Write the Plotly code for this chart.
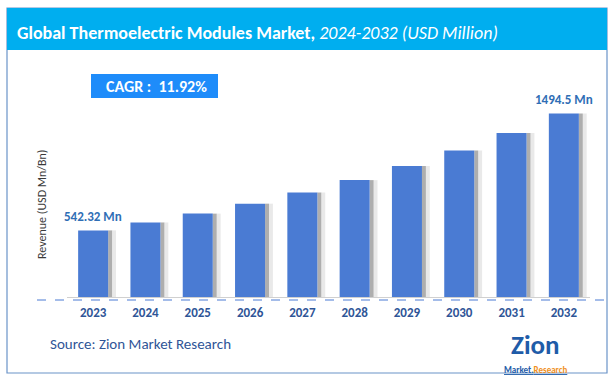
import plotly.graph_objects as go

years = ["2023", "2024", "2025", "2026", "2027", "2028", "2029", "2030", "2031", "2032"]
revenue = [542.32, 607, 679, 760, 851, 952, 1066, 1193, 1335, 1494.5]
cagr_text = "CAGR :  11.92%"
title_bold = "Global Thermoelectric Modules Market,"
title_italic = "2024-2032 (USD Million)"
y_title = "Revenue (USD Mn/Bn)"
source_text = "Source: Zion Market Research"

W, H = 615, 382
ML, MR, MT, MB = 67, 25, 60, 85
PW, PH = W - ML - MR, H - MT - MB


def px(x):
    return (x - ML) / PW


def py(y):
    return (H - MB - y) / PH


bar_w = 0.574
sh_w = 0.075
fig = go.Figure()
fig.add_trace(go.Bar(x=years, y=revenue, width=sh_w, offset=bar_w / 2 + sh_w,
                     marker=dict(color="rgba(215,215,215,0.55)", line=dict(width=0)),
                     hoverinfo="skip", showlegend=False))
fig.add_trace(go.Bar(x=years, y=revenue, width=sh_w, offset=bar_w / 2,
                     marker=dict(color="rgba(140,140,140,0.7)", line=dict(width=0)),
                     hoverinfo="skip", showlegend=False))
fig.add_trace(go.Bar(x=years, y=revenue, width=bar_w, offset=-bar_w / 2,
                     marker=dict(color="#4A7BD3", line=dict(width=0)),
                     showlegend=False))

font_main = "Carlito, Lato, Liberation Sans Narrow, Roboto, sans-serif"

shapes = [
    dict(type="rect", xref="paper", yref="paper", x0=px(7), x1=px(607), y0=py(373), y1=py(8),
         line=dict(color="#6A93C8", width=1.2), fillcolor="rgba(0,0,0,0)", layer="below"),
    dict(type="rect", xref="paper", yref="paper", x0=px(7), x1=px(607), y0=py(50), y1=py(8),
         line=dict(width=0), fillcolor="#00AEEF"),
    dict(type="line", xref="paper", yref="paper", x0=px(37), x1=px(604), y0=py(300), y1=py(300),
         line=dict(color="#4A7BD3", width=1, dash="dash")),
    dict(type="rect", xref="paper", yref="paper", x0=px(91), x1=px(218), y0=py(98), y1=py(74),
         line=dict(width=0), fillcolor="#1E8CFA"),
]

annotations = [
    dict(xref="paper", yref="paper", x=px(15), y=py(33), xanchor="left", yanchor="middle",
         showarrow=False,
         text=f"<b>{title_bold}</b> <i>{title_italic}</i>",
         font=dict(family=font_main, size=18, color="white")),
    dict(xref="paper", yref="paper", x=px(156), y=py(86), xanchor="center", yanchor="middle",
         showarrow=False, text=f"<b>{cagr_text}</b>",
         font=dict(family=font_main, size=16, color="white")),
    dict(xref="paper", yref="paper", x=px(42), y=py(205), xanchor="center", yanchor="middle",
         showarrow=False, text=y_title, textangle=-90,
         font=dict(family=font_main, size=12, color="#3A3A3A")),
    dict(x=0, y=revenue[0], xanchor="center", yanchor="bottom", yshift=4,
         showarrow=False, text=f"<b>{revenue[0]} Mn</b>",
         font=dict(family=font_main, size=13, color="#2F6EB5")),
    dict(x=len(years) - 1, y=revenue[-1], xanchor="center", yanchor="bottom", yshift=4,
         showarrow=False, text=f"<b>{revenue[-1]} Mn</b>",
         font=dict(family=font_main, size=13, color="#2F6EB5")),
    dict(xref="paper", yref="paper", x=px(48), y=py(344), xanchor="left", yanchor="middle",
         showarrow=False, text=source_text,
         font=dict(family=font_main, size=15, color="#2F5597")),
    dict(xref="paper", yref="paper", x=px(535), y=py(344), xanchor="center", yanchor="middle",
         showarrow=False, text="<b>Zion</b>",
         font=dict(family=font_main, size=27, color="#1F5CA8")),
    dict(xref="paper", yref="paper", x=px(535), y=py(369.5), xanchor="center", yanchor="middle",
         showarrow=False,
         text="<b><u>Market.<span style='color:#F0901E'>Research</span></u></b>",
         font=dict(family=font_main, size=9, color="#1F5CA8")),
]

fig.update_layout(
    width=W, height=H,
    margin=dict(l=ML, r=MR, t=MT, b=MB),
    paper_bgcolor="white", plot_bgcolor="white",
    barmode="overlay",
    shapes=shapes, annotations=annotations,
    xaxis=dict(type="category", range=[-0.5, 9.5], showgrid=False, zeroline=False,
               showline=True, linecolor="#D0D0D0", linewidth=1, ticks="",
               ticklabelstandoff=3,
               tickfont=dict(family=font_main, size=13, color="#2F5597", weight="bold"),
               fixedrange=True),
    yaxis=dict(range=[0, 1930], showgrid=False, zeroline=False, showline=False,
               showticklabels=False, ticks="", fixedrange=True),
    showlegend=False,
)

fig.write_html("out.html", config={"displayModeBar": False},
               post_script="document.body.style.margin='0';document.body.style.overflow='hidden';")
